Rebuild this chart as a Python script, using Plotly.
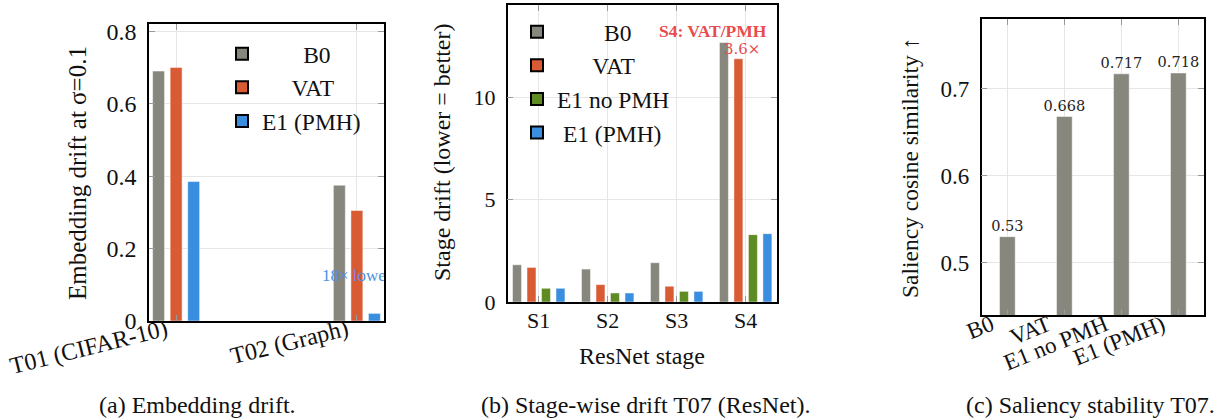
import plotly.graph_objects as go

# ---------------- data ----------------
emb_categories = ["T01 (CIFAR-10)", "T02 (Graph)"]
emb_methods = ["B0", "VAT", "E1 (PMH)"]
emb_b0 = [0.69, 0.375]
emb_vat = [0.70, 0.305]
emb_e1 = [0.385, 0.021]

stage_categories = ["S1", "S2", "S3", "S4"]
stage_methods = ["B0", "VAT", "E1 no PMH", "E1 (PMH)"]
stage_b0 = [1.82, 1.61, 1.92, 12.68]
stage_vat = [1.69, 0.85, 0.77, 11.89]
stage_e1_nopmh = [0.67, 0.44, 0.52, 3.29]
stage_e1_pmh = [0.67, 0.44, 0.52, 3.34]

sal_categories = ["B0", "VAT", "E1 no PMH", "E1 (PMH)"]
sal_values = [0.530, 0.668, 0.717, 0.718]
sal_labels = ["0.53", "0.668", "0.717", "0.718"]

# ---------------- style ----------------
GRAY = "#87877e"
ORANGE = "#d95b34"
GREEN = "#5e8b22"
BLUE = "#3a8ee0"
RED_NOTE = "#e84c4c"
FONT = "'Liberation Serif', 'Times New Roman', Times, serif"
MATHFONT = "'DejaVu Serif', serif"
W, H = 1216, 420

def px_x(p):
    return p / W

def px_y(p):
    return 1 - p / H

a_pos = list(range(len(emb_categories)))
b_pos = list(range(len(stage_categories)))
c_pos = list(range(len(sal_categories)))

fig = go.Figure()

# panel (a)
a_colors = [GRAY, ORANGE, BLUE]
a_series = [emb_b0, emb_vat, emb_e1]
a_step, a_width = 0.097, 0.066
a_names = ["\u00a0" * 7 + "B0", "\u00a0" * 5 + "VAT", "E1 (PMH)"]
for i, (name, vals, col) in enumerate(zip(emb_methods, a_series, a_colors)):
    center = (i - 1) * a_step
    fig.add_trace(go.Bar(x=a_pos, y=vals, name=name, marker_color=col,
                         marker_line=dict(width=0.8, color="rgba(255,255,255,0.6)"),
                         width=a_width, offset=center - a_width / 2,
                         xaxis="x", yaxis="y", showlegend=False))
for name, col in zip(a_names, a_colors):
    fig.add_trace(go.Scatter(x=[None], y=[None], mode="markers", name=name,
                             marker=dict(symbol="square", size=15, color=col,
                                         line=dict(color="black", width=2)),
                             xaxis="x", yaxis="y", legend="legend"))
fig.add_trace(go.Scatter(x=[0.807], y=[0.121], mode="text", text=["18×\u00a0lower"],
                         textposition="middle right",
                         textfont=dict(family=FONT, size=17, color="#4a90e2"),
                         cliponaxis=True, showlegend=False, xaxis="x", yaxis="y"))

# panel (b)
b_colors = [GRAY, ORANGE, GREEN, BLUE]
b_series = [stage_b0, stage_vat, stage_e1_nopmh, stage_e1_pmh]
b_step, b_width = 0.21, 0.13
b_names = ["\u00a0" * 8 + "B0", "\u00a0" * 6 + "VAT", "E1 no PMH", "\u00a0" + "E1 (PMH)"]
for i, (name, vals, col) in enumerate(zip(stage_methods, b_series, b_colors)):
    center = (i - 1.5) * b_step
    fig.add_trace(go.Bar(x=b_pos, y=vals, name=name, marker_color=col,
                         marker_line=dict(width=0.8, color="rgba(255,255,255,0.6)"),
                         width=b_width, offset=center - b_width / 2,
                         xaxis="x2", yaxis="y2", showlegend=False))
for name, col in zip(b_names, b_colors):
    fig.add_trace(go.Scatter(x=[None], y=[None], mode="markers", name=name,
                             marker=dict(symbol="square", size=15, color=col,
                                         line=dict(color="black", width=2)),
                             xaxis="x2", yaxis="y2", legend="legend2"))

# panel (c)
c_width = 0.275
fig.add_trace(go.Bar(x=c_pos, y=sal_values, marker_color=GRAY,
                     marker_line=dict(width=0.8, color="rgba(255,255,255,0.6)"),
                     width=c_width, offset=-c_width / 2,
                     text=sal_labels, textposition="outside", constraintext="none",
                     textfont=dict(family=MATHFONT, size=14.5, color="#222"),
                     cliponaxis=False, xaxis="x3", yaxis="y3", showlegend=False))

axis_common = dict(showline=True, linecolor="black", linewidth=1.5, mirror="allticks",
                   ticks="inside", ticklen=6, tickcolor="#999", tickwidth=1,
                   showgrid=True, gridcolor="#e6e6e6", gridwidth=1, zeroline=False,
                   automargin=False)

def tf(size):
    return dict(family=FONT, size=size, color="#111")

fig.update_layout(
    width=W, height=H, margin=dict(l=0, r=0, t=0, b=0, autoexpand=False),
    paper_bgcolor="white", plot_bgcolor="white",
    barmode="overlay",
    font=dict(family=FONT, size=22, color="#111"),
    xaxis=dict(axis_common, domain=[px_x(149), px_x(384)], range=[-0.15, 1.15],
               anchor="y", tickangle=-14, ticklabelstandoff=-16, ticklabelshift=-10,
               tickvals=a_pos, ticktext=emb_categories, tickfont=tf(24)),
    yaxis=dict(axis_common, domain=[px_y(321), px_y(24)], range=[0, 0.82],
               anchor="x", tickvals=[0, 0.2, 0.4, 0.6, 0.8],
               ticktext=["0", "0.2", "0.4", "0.6", "0.8"], ticklabelstandoff=6,
               tickfont=tf(24)),
    xaxis2=dict(axis_common, domain=[px_x(507.7), px_x(776.7)], range=[-0.45, 3.45],
                anchor="y2", ticklabelstandoff=-2,
                tickvals=b_pos, ticktext=stage_categories, tickfont=tf(22)),
    yaxis2=dict(axis_common, domain=[px_y(302), px_y(5.3)], range=[0, 14.5],
                anchor="x2", tickvals=[0, 5, 10], ticklabelstandoff=6, tickfont=tf(22)),
    xaxis3=dict(axis_common, domain=[px_x(981.7), px_x(1204)], range=[-0.45, 3.45],
                anchor="y3", tickangle=-22, ticklabelstandoff=-14, ticklabelshift=-16,
                tickvals=c_pos, ticktext=sal_categories, tickfont=tf(23)),
    yaxis3=dict(axis_common, domain=[px_y(315), px_y(19)], range=[0.44, 0.78],
                anchor="x3", tickvals=[0.5, 0.6, 0.7], ticklabelstandoff=6, tickfont=tf(23)),
    legend=dict(x=px_x(222), y=px_y(32), xanchor="left", yanchor="top",
                bgcolor="rgba(0,0,0,0)", font=tf(23.5),
                itemsizing="constant", tracegroupgap=0),
    legend2=dict(x=px_x(517), y=px_y(10), xanchor="left", yanchor="top",
                 bgcolor="rgba(0,0,0,0)", font=tf(23.5),
                 itemsizing="constant", tracegroupgap=0),
    showlegend=True,
)

annotations = [
    dict(text="Embedding drift at σ=0.1", x=px_x(77), y=px_y(173), textangle=-90, size=25),
    dict(text="Stage drift (lower = better)", x=px_x(442), y=px_y(153), textangle=-90, size=24),
    dict(text="Saliency cosine similarity ↑", x=px_x(910), y=px_y(168), textangle=-90, size=23.5),
    dict(text="ResNet stage", x=px_x(641.7), y=px_y(356), size=24),
    dict(text="(a) Embedding drift.", x=px_x(197.5), y=px_y(405), size=24),
    dict(text="(b) Stage-wise drift T07 (ResNet).", x=px_x(645), y=px_y(405), size=24),
    dict(text="(c) Saliency stability T07.", x=px_x(1090), y=px_y(405), size=24),
]
for a in annotations:
    size = a.pop("size")
    fig.add_annotation(xref="paper", yref="paper", showarrow=False,
                       xanchor="center", yanchor="middle", font=tf(size), **a)

fig.add_annotation(xref="x2", yref="y2", x=2.526, y=13.24, text="<b>S4: VAT/PMH</b>",
                   xanchor="center", showarrow=False,
                   font=dict(family=FONT, size=17.5, color=RED_NOTE))
fig.add_annotation(xref="x2", yref="y2", x=2.946, y=12.36, text="3.6×",
                   xanchor="center", showarrow=False,
                   font=dict(family=MATHFONT, size=15, color=RED_NOTE))

fig.write_html("out.html")
